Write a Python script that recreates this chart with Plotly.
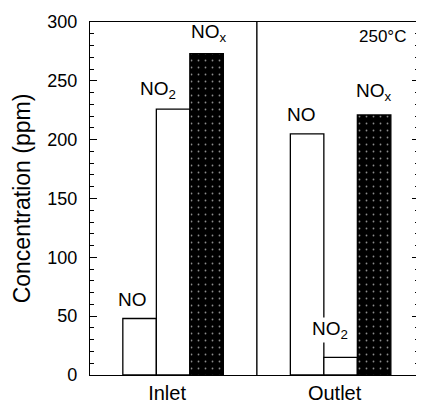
import plotly.graph_objects as go

groups = ["Inlet", "Outlet"]
species = ["NO", "NO<sub>2</sub>", "NO<sub>x</sub>"]
inlet_ppm = [48, 226, 273]
outlet_ppm = [205, 15, 221]
y_ticks = [0, 50, 100, 150, 200, 250, 300]
temperature_label = "250°C"

values = [inlet_ppm, outlet_ppm]
group_step = 5

# label offsets (pixels) relative to bar centre / top
label_xshift = [[-7, -15, 2], [-6, -11, 0]]
label_yshift = [[8, 6, 8], [8, 14, 10]]

fig = go.Figure()
font = "Liberation Sans, Arial, sans-serif"

for g, vals in enumerate(values):
    for i, v in enumerate(vals):
        x = g * group_step + i
        dark = i == 2
        fig.add_trace(go.Bar(
            x=[x], y=[v], width=1,
            marker=dict(
                color="black" if dark else "white",
                line=dict(color="black", width=1.3),
                pattern=dict(shape=".", fgcolor="white", bgcolor="black",
                             size=7, solidity=0.05, fgopacity=0.55) if dark else None,
            ),
            showlegend=False, hoverinfo="skip",
        ))
        fig.add_annotation(
            x=x, y=v, text=species[i], showarrow=False,
            xanchor="center", yanchor="bottom",
            xshift=label_xshift[g][i], yshift=label_yshift[g][i],
            font=dict(family=font, size=19, color="black"),
            bgcolor="white" if (g == 1 and i == 1) else None,
            borderpad=0,
        )

fig.add_shape(type="line", xref="x", yref="paper",
              x0=(group_step - 1.5), x1=(group_step - 1.5), y0=0, y1=1,
              line=dict(color="black", width=1.4))

fig.add_annotation(xref="paper", yref="paper", x=0.966, y=0.96,
                   text=temperature_label, showarrow=False,
                   xanchor="right", yanchor="middle",
                   font=dict(family=font, size=17, color="black"))

# page body adds an 8 px offset, so the figure is 8 px smaller on each axis
fig.update_layout(
    width=416, height=392,
    margin=dict(l=82, r=5, t=14, b=25),
    plot_bgcolor="white", paper_bgcolor="white",
    barmode="overlay",
    font=dict(family=font, color="black"),
    xaxis=dict(
        range=[-1.48, 8.34],
        tickvals=[g * group_step + 0.82 for g in range(len(groups))],
        ticktext=groups,
        ticks="", showgrid=False, zeroline=False,
        showline=True, linecolor="black", linewidth=1.4, mirror=True,
        tickfont=dict(size=20, family=font, color="black"),
        ticklabelstandoff=0,
        automargin=False,
    ),
    yaxis=dict(
        range=[0, 300],
        tickvals=y_ticks,
        ticks="inside", ticklen=7, tickwidth=1.3, tickcolor="black",
        minor=dict(dtick=10, ticks="inside", ticklen=4, tickwidth=1, tickcolor="black"),
        showgrid=False, zeroline=False,
        showline=True, linecolor="black", linewidth=1.4, mirror="ticks",
        tickfont=dict(size=18, family=font, color="black"),
        ticklabelstandoff=8,
        automargin=False,
        title=dict(text="Concentration (ppm)", font=dict(size=23, family=font, color="black"),
                   standoff=10),
    ),
)

fig.write_html("out.html")
